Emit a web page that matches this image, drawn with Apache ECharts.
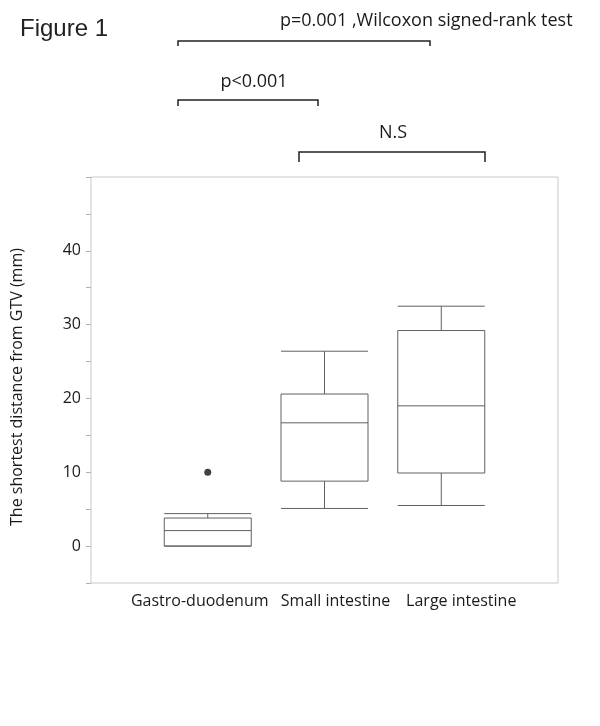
<!DOCTYPE html>
<html>
<head>
<meta charset="utf-8">
<script src="https://cdn.jsdelivr.net/npm/echarts@6/dist/echarts.min.js"></script>
<style>html,body{margin:0;padding:0;background:#fff;}#c{width:600px;height:726px;}</style>
</head>
<body>
<div id="c"></div>
<script>
const categories = ['Gastro-duodenum', 'Small intestine', 'Large intestine'];
// [min, Q1, median, Q3, max]
const gastroBox = [0, 0, 2.1, 3.8, 4.4];
const smallBox = [5.1, 8.8, 16.7, 20.6, 26.4];
const largeBox = [5.5, 9.9, 19.0, 29.2, 32.5];
const outliers = [['Gastro-duodenum', 10.0]];
const yTickLabels = [0, 10, 20, 30, 40];

const FONT = 'Open Sans';
const labelPads = [[0, 16, 0, 0], [0, 0, 0, 22], [0, 0, 0, 40]];
const axisCats = [''].concat(categories.map((c, i) => ({value: c, textStyle: {padding: labelPads[i]}}))).concat(['']);
const empty = ['-', '-', '-', '-', '-'];

const chart = echarts.init(document.getElementById('c'), null, {renderer: 'canvas'});
chart.setOption({
  animation: false,
  backgroundColor: '#fff',
  grid: {left: 91, right: 42, top: 177, bottom: 143, show: true, borderColor: '#c8c8c8', borderWidth: 1, backgroundColor: 'transparent'},
  xAxis: {
    type: 'category',
    data: axisCats,
    boundaryGap: false,
    axisLine: {show: false},
    axisTick: {show: false},
    splitLine: {show: false},
    axisLabel: {fontFamily: FONT, fontSize: 16, color: '#1a1a1a', margin: 10, interval: 0}
  },
  yAxis: {
    type: 'value',
    min: -5, max: 50, interval: 5,
    name: 'The shortest distance from GTV (mm)',
    nameLocation: 'middle',
    nameGap: 66,
    nameTextStyle: {fontFamily: FONT, fontSize: 16, color: '#1a1a1a', padding: [0, 14, 0, 0]},
    axisLine: {show: false},
    axisTick: {show: true, length: 5, lineStyle: {color: '#b0b0b0'}},
    splitLine: {show: false},
    axisLabel: {
      fontFamily: FONT, fontSize: 16, color: '#1a1a1a', margin: 10,
      formatter: v => yTickLabels.indexOf(v) >= 0 ? String(v) : ''
    }
  },
  series: [
    {
      type: 'boxplot',
      data: [empty, gastroBox, smallBox, largeBox, empty],
      boxWidth: [87, 87],
      itemStyle: {color: '#fff', borderColor: '#606060', borderWidth: 1},
      emphasis: {disabled: true}
    },
    {
      type: 'scatter',
      data: outliers,
      symbol: 'circle',
      symbolSize: 7,
      itemStyle: {color: '#111'}
    }
  ],
  graphic: [
    {type: 'text', x: 20, y: 29, style: {text: 'Figure 1', font: '24px "Liberation Sans", Arial', fill: '#222', verticalAlign: 'middle'}},
    {type: 'text', x: 280, y: 21, style: {text: 'p=0.001 ,Wilcoxon signed-rank test', font: '18px "Open Sans"', fill: '#1a1a1a', verticalAlign: 'middle'}},
    {type: 'polyline', shape: {points: [[178,46],[178,41],[430,41],[430,46]]}, style: {stroke: '#222', lineWidth: 1.5, fill: null}},
    {type: 'text', x: 254, y: 82, style: {text: 'p<0.001', font: '18px "Open Sans"', fill: '#1a1a1a', align: 'center', verticalAlign: 'middle'}},
    {type: 'polyline', shape: {points: [[178,106],[178,100],[318,100],[318,106]]}, style: {stroke: '#222', lineWidth: 1.5, fill: null}},
    {type: 'text', x: 393, y: 133, style: {text: 'N.S', font: '18px "Open Sans"', fill: '#1a1a1a', align: 'center', verticalAlign: 'middle'}},
    {type: 'polyline', shape: {points: [[299,162],[299,152],[485,152],[485,162]]}, style: {stroke: '#222', lineWidth: 1.5, fill: null}}
  ]
});
</script>
</body>
</html>
